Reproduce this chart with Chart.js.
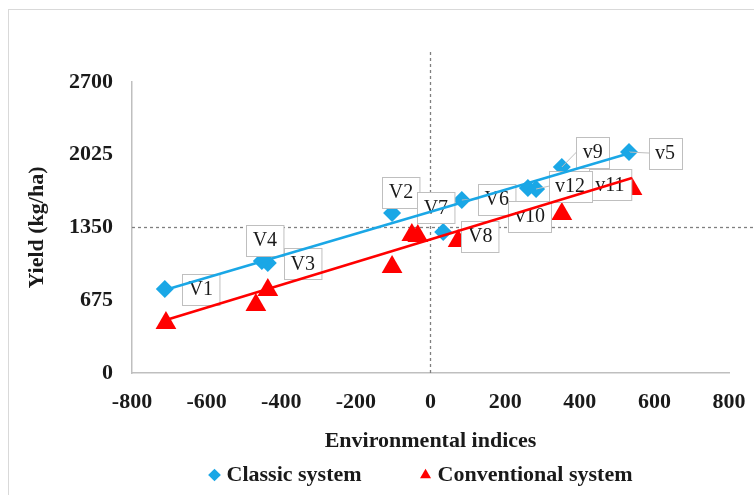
<!DOCTYPE html>
<html>
<head>
<meta charset="utf-8">
<script src="https://cdn.jsdelivr.net/npm/chart.js@4.4.1/dist/chart.umd.min.js"></script>
<style>
  html, body { margin: 0; padding: 0; background: #fff; }
  #wrap { width: 754px; height: 495px; }
</style>
</head>
<body>
<div id="wrap"><canvas id="chart" width="754" height="495"></canvas></div>
<script>
// genotypes and their environmental index / yield values
const genotypes = ["V1", "V2", "V3", "V4", "v5", "V6", "V7", "V8", "v9", "v10", "v11", "v12"];
const classicX = [-712, -103, -436, -452, 532, 84, -7, 34, 352, 261, 395, 283];
const classicY = [779, 1484, 1021, 1039, 2050, 1605, 1494, 1308, 1911, 1716, 1791, 1707];
const conventionalX = [-709, -103, -436, -468, 540, 74, -34, -50, 352, 267, 481, 374];
const conventionalY = [464, 983, 770, 631, 1707, 1225, 1271, 1280, 1475, 1438, 1670, 1651];

// linear trend lines (end points)
const classicTrendX = [-712, 535];
const classicTrendY = [770, 2041];
const conventionalTrendX = [-709, 540];
const conventionalTrendY = [492, 1809];

// dashed reference lines (mean environment / mean yield)
const meanIndex = 0;
const meanYield = 1350;

const xTicks = [-800, -600, -400, -200, 0, 200, 400, 600, 800];
const yTicks = [0, 675, 1350, 2025, 2700];

const BLUE = "#1aa7e6";
const RED = "#ff0000";
const FONT = "'Liberation Serif', 'Times New Roman', serif";

const pts = (xs, ys) => xs.map((x, i) => ({ x: x, y: ys[i] }));

// position des étiquettes (décalage en px par rapport au point "classic")
const labelOffsets = [
  [36, 0], [9, -21], [35, 1], [3, -21], [36, 1], [35, -1],
  [8, -4], [37, 4], [31, -15], [2, 28], [32, 5], [34, -3]
];
const withPointer = [false, false, false, false, true, true, false, false, true, false, false, true];

const frame = {
  id: "frame",
  beforeDraw(chart) {
    const c = chart.ctx;
    c.save();
    c.fillStyle = "#fff";
    c.fillRect(0, 0, chart.width, chart.height);
    c.strokeStyle = "#d9d9d9";
    c.lineWidth = 1;
    c.strokeRect(8.5, 9.5, chart.width + 10, chart.height + 10);
    c.restore();
  }
};

// la légende d'Excel est centrée sur tout le cadre du graphique (plus large que le canvas)
const legendSpot = {
  id: "legendSpot",
  afterLayout(chart) {
    const lg = chart.legend;
    if (!lg) return;
    lg.left = 8;
    lg.right = 838;
    lg.top -= 17;
    lg.bottom -= 17;
  }
};

const callouts = {
  id: "callouts",
  afterDatasetDraw(chart, args) {
    if (args.index !== 0) return;
    const c = chart.ctx;
    const meta = chart.getDatasetMeta(0);
    c.save();
    c.font = "20px " + FONT;
    c.textAlign = "center";
    c.textBaseline = "middle";
    genotypes.forEach((name, i) => {
      const p = meta.data[i];
      const w = c.measureText(name).width + 13;
      const h = 31;
      const cx = p.x + labelOffsets[i][0];
      const cy = p.y + labelOffsets[i][1];
      const l = Math.round(cx - w / 2) + 0.5, t = Math.round(cy - h / 2) + 0.5;
      if (withPointer[i]) {
        c.strokeStyle = "#bfbfbf";
        c.lineWidth = 1;
        c.beginPath();
        c.moveTo(l, cy);
        c.lineTo(p.x, p.y);
        c.stroke();
      }
      c.fillStyle = "#fff";
      c.fillRect(l, t, w, h);
      c.strokeStyle = "#bfbfbf";
      c.lineWidth = 1;
      c.strokeRect(l, t, w, h);
      c.fillStyle = "#1a1a1a";
      c.fillText(name, cx, cy + 1);
    });
    c.restore();
  }
};

new Chart(document.getElementById("chart"), {
  type: "scatter",
  data: {
    datasets: [
      {
        label: "Classic system",
        data: pts(classicX, classicY),
        pointStyle: "rectRot",
        pointRadius: 9,
        backgroundColor: BLUE,
        borderColor: BLUE,
        borderWidth: 0,
        order: 1
      },
      {
        label: "Conventional system",
        data: pts(conventionalX, conventionalY),
        pointStyle: "triangle",
        pointRadius: 12,
        backgroundColor: RED,
        borderColor: RED,
        borderWidth: 0,
        order: 2
      },
      {
        label: "trend-classic",
        type: "line",
        data: pts(classicTrendX, classicTrendY),
        borderColor: BLUE,
        borderWidth: 2.5,
        pointRadius: 0,
        order: 0
      },
      {
        label: "trend-conventional",
        type: "line",
        data: pts(conventionalTrendX, conventionalTrendY),
        borderColor: RED,
        borderWidth: 2.5,
        pointRadius: 0,
        order: 0
      },
      {
        label: "ref-x",
        type: "line",
        data: [{ x: meanIndex, y: 0 }, { x: meanIndex, y: 3000 }],
        borderColor: "#7f7f7f",
        borderWidth: 1.3,
        borderDash: [3, 3],
        pointRadius: 0,
        clip: false,
        order: 3
      },
      {
        label: "ref-y",
        type: "line",
        data: [{ x: -800, y: meanYield }, { x: 870, y: meanYield }],
        borderColor: "#7f7f7f",
        borderWidth: 1.3,
        borderDash: [3, 3],
        pointRadius: 0,
        clip: false,
        order: 3
      }
    ]
  },
  options: {
    responsive: false,
    animation: false,
    layout: { padding: { top: 82, right: 25, bottom: -18, left: 0 } },
    plugins: {
      tooltip: { enabled: false },
      legend: {
        position: "bottom",
        labels: {
          usePointStyle: true,
          boxWidth: 2,
          boxHeight: 9,
          padding: 63,
          color: "#1a1a1a",
          font: { family: FONT, size: 22, weight: "bold" },
          filter: item => item.datasetIndex < 2
        }
      }
    },
    scales: {
      x: {
        type: "linear",
        min: -800,
        max: 800,
        afterBuildTicks: s => { s.ticks = xTicks.map(v => ({ value: v })); },
        afterFit: s => { s.height = 45; },
        grid: { display: false, drawTicks: true, tickLength: 16 },
        border: { display: true, color: "#bfbfbf", width: 1.5 },
        ticks: {
          padding: 0,
          color: "#1a1a1a",
          font: { family: FONT, size: 22, weight: "bold" },
          callback: v => String(v)
        },
        title: {
          display: true,
          text: "Environmental indices",
          color: "#1a1a1a",
          padding: { top: 0, bottom: -37 },
          font: { family: FONT, size: 22, weight: "bold" }
        }
      },
      y: {
        min: 0,
        max: 2700,
        afterBuildTicks: s => { s.ticks = yTicks.map(v => ({ value: v })); },
        afterFit: s => { s.width = 132; },
        grid: { display: false, drawTicks: false },
        border: { display: true, color: "#bfbfbf", width: 1.5 },
        ticks: {
          padding: 19,
          color: "#1a1a1a",
          font: { family: FONT, size: 22, weight: "bold" },
          callback: v => String(v)
        },
        title: {
          display: true,
          text: "Yield (kg/ha)",
          color: "#1a1a1a",
          padding: { top: 24, bottom: 0 },
          font: { family: FONT, size: 22, weight: "bold" }
        }
      }
    }
  },
  plugins: [frame, legendSpot, callouts]
});
</script>
</body>
</html>
